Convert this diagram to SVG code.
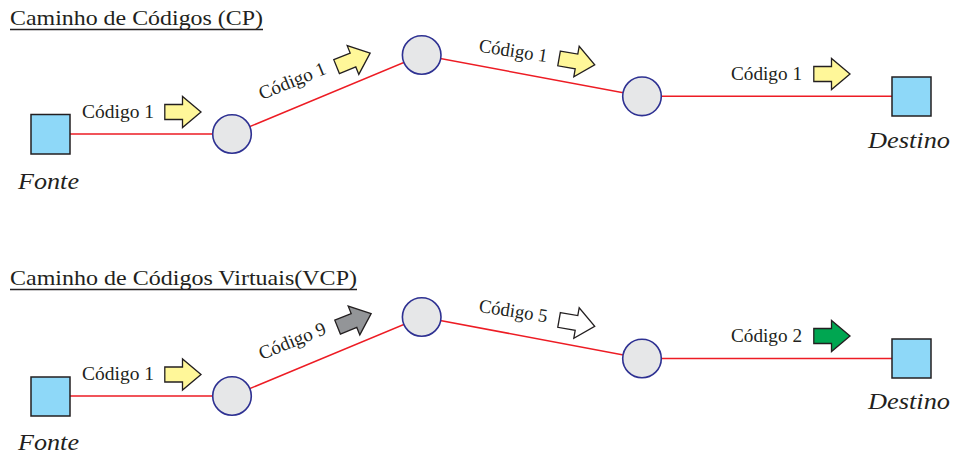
<svg xmlns="http://www.w3.org/2000/svg" xmlns:xlink="http://www.w3.org/1999/xlink" width="953" height="454" viewBox="0 0 953 454">
<style>
.sq{fill:#8ed8f8;stroke:#231f20;stroke-width:1.5}
.nd{fill:#e6e7e8;stroke:#2e3192;stroke-width:1.6}
.ln{stroke:#ed1c24;stroke-width:1.5;fill:none}
.ul{stroke:#231f20;stroke-width:1.4}
.ar{stroke:#231f20;stroke-width:1.3;stroke-linejoin:miter}
.y{fill:#fff799}.g{fill:#939598}.w{fill:#ffffff}.gr{fill:#00a651}
</style>
<defs>
<path id="arrow" d="M-17.7,-7.5 H0 V-15.5 L18.5,0 L0,15.5 V7.5 H-17.7 Z"/>
</defs>

<!-- titles -->
<g id="title-cp">
<text font-family="Liberation Serif" font-size="21" fill="#231f20" x="10" y="25" textLength="253" lengthAdjust="spacingAndGlyphs">Caminho de Códigos (CP)</text>
<line class="ul" x1="10" y1="29.5" x2="263" y2="29.5"/>
</g>
<g id="title-vcp">
<text font-family="Liberation Serif" font-size="21" fill="#231f20" x="10" y="285" textLength="347" lengthAdjust="spacingAndGlyphs">Caminho de Códigos Virtuais(VCP)</text>
<line class="ul" x1="10" y1="289.5" x2="357" y2="289.5"/>
</g>

<!-- connectors -->
<g id="connectors">
<polyline class="ln" points="70,134 232,134 421.7,55 642,96.3 892,96.3"/>
<polyline class="ln" points="70,396 232,396 421.7,317 642,358.5 892,358.5"/>
</g>

<!-- top path nodes -->
<g id="fonte-cp">
<rect class="sq" x="31" y="114.5" width="39" height="39.5"/>
<text font-family="Liberation Serif" font-size="24" font-style="italic" fill="#231f20" x="18" y="189" textLength="61" lengthAdjust="spacingAndGlyphs">Fonte</text>
</g>
<g id="n1-cp"><circle class="nd" cx="232" cy="134" r="19.3"/></g>
<g id="n2-cp"><circle class="nd" cx="421.7" cy="55" r="19.3"/></g>
<g id="n3-cp"><circle class="nd" cx="642" cy="96.3" r="19.3"/></g>
<g id="destino-cp">
<rect class="sq" x="892" y="77" width="39" height="39"/>
<text font-family="Liberation Serif" font-size="24" font-style="italic" fill="#231f20" x="868" y="148" textLength="82" lengthAdjust="spacingAndGlyphs">Destino</text>
</g>

<!-- top labels and arrows -->
<g id="lbl1-cp">
<text font-family="Liberation Serif" font-size="19" fill="#231f20" x="82" y="118" textLength="72" lengthAdjust="spacingAndGlyphs">Código 1</text>
<use href="#arrow" xlink:href="#arrow" class="ar y" transform="translate(182.5,112)"/>
</g>
<g id="lbl2-cp">
<text font-family="Liberation Serif" font-size="19" fill="#231f20" transform="translate(261.7,100) rotate(-22)" textLength="71" lengthAdjust="spacingAndGlyphs">Código 1</text>
<use href="#arrow" xlink:href="#arrow" class="ar y" transform="translate(353,60) rotate(-22)"/>
</g>
<g id="lbl3-cp">
<text font-family="Liberation Serif" font-size="19" fill="#231f20" transform="translate(478.3,51.5) rotate(9)" textLength="69" lengthAdjust="spacingAndGlyphs">Código 1</text>
<use href="#arrow" xlink:href="#arrow" class="ar y" transform="translate(576.5,61.5) rotate(10)"/>
</g>
<g id="lbl4-cp">
<text font-family="Liberation Serif" font-size="19" fill="#231f20" x="731" y="80" textLength="71" lengthAdjust="spacingAndGlyphs">Código 1</text>
<use href="#arrow" xlink:href="#arrow" class="ar y" transform="translate(831.5,74)"/>
</g>

<!-- bottom path nodes -->
<g id="fonte-vcp">
<rect class="sq" x="31" y="377" width="39" height="39"/>
<text font-family="Liberation Serif" font-size="24" font-style="italic" fill="#231f20" x="18" y="450" textLength="61" lengthAdjust="spacingAndGlyphs">Fonte</text>
</g>
<g id="n1-vcp"><circle class="nd" cx="232" cy="396" r="19.3"/></g>
<g id="n2-vcp"><circle class="nd" cx="421.7" cy="317" r="19.3"/></g>
<g id="n3-vcp"><circle class="nd" cx="642" cy="358.5" r="19.3"/></g>
<g id="destino-vcp">
<rect class="sq" x="892" y="339" width="39" height="39"/>
<text font-family="Liberation Serif" font-size="24" font-style="italic" fill="#231f20" x="868" y="409" textLength="82" lengthAdjust="spacingAndGlyphs">Destino</text>
</g>

<!-- bottom labels and arrows -->
<g id="lbl1-vcp">
<text font-family="Liberation Serif" font-size="19" fill="#231f20" x="82" y="380" textLength="72" lengthAdjust="spacingAndGlyphs">Código 1</text>
<use href="#arrow" xlink:href="#arrow" class="ar y" transform="translate(182.5,374.5)"/>
</g>
<g id="lbl2-vcp">
<text font-family="Liberation Serif" font-size="19" fill="#231f20" transform="translate(261.7,360) rotate(-22)" textLength="71" lengthAdjust="spacingAndGlyphs">Código 9</text>
<use href="#arrow" xlink:href="#arrow" class="ar g" transform="translate(354,320.5) rotate(-22)"/>
</g>
<g id="lbl3-vcp">
<text font-family="Liberation Serif" font-size="19" fill="#231f20" transform="translate(478.3,311.7) rotate(9)" textLength="69" lengthAdjust="spacingAndGlyphs">Código 5</text>
<use href="#arrow" xlink:href="#arrow" class="ar w" transform="translate(576.5,323) rotate(10)"/>
</g>
<g id="lbl4-vcp">
<text font-family="Liberation Serif" font-size="19" fill="#231f20" x="731" y="342" textLength="71" lengthAdjust="spacingAndGlyphs">Código 2</text>
<use href="#arrow" xlink:href="#arrow" class="ar gr" transform="translate(831.5,336)"/>
</g>
</svg>
